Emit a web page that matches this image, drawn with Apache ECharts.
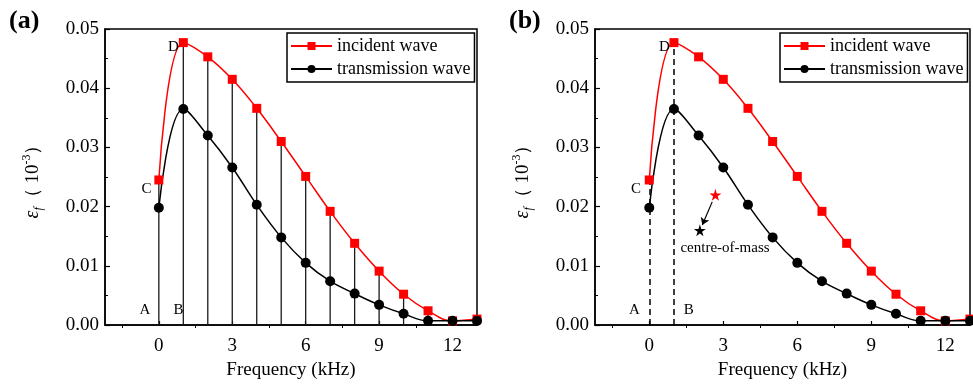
<!DOCTYPE html>
<html>
<head>
<meta charset="utf-8">
<script src="https://cdn.jsdelivr.net/npm/echarts@6/dist/echarts.min.js"></script>
<style>
html, body { margin: 0; padding: 0; background: #fff; }
#chart { width: 973px; height: 389px; }
</style>
</head>
<body>
<div id="chart"></div>
<script>
// data (strain amplitude vs frequency)
const freq = [0, 1, 2, 3, 4, 5, 6, 7, 8, 9, 10, 11, 12, 13];
const incident = [0.0245, 0.0477, 0.0453, 0.0415, 0.0366, 0.0310, 0.0251, 0.0192, 0.0138, 0.0091, 0.0052, 0.0024, 0.0007, 0.0010];
const transmission = [0.0198, 0.0365, 0.0320, 0.0266, 0.0203, 0.0148, 0.0105, 0.0074, 0.0053, 0.0034, 0.0019, 0.0007, 0.0007, 0.0007];
const xLabels = [0, 3, 6, 9, 12];
const xMinor = [-1.5, 1.5, 4.5, 7.5, 10.5];
const dashedAt = [0, 1];
// letters and notes: [text, x, y]
const notesA = [['A', -0.57, 0.0025], ['B', 0.8, 0.0025], ['C', -0.5, 0.0230], ['D', 0.6, 0.0470]];
const notesB = [['A', -0.6, 0.0025], ['B', 1.6, 0.0025], ['C', -0.54, 0.0230], ['D', 0.61, 0.0470], ['centre-of-mass', 3.07, 0.0130]];
const centreIncident = [2.68, 0.0220];
const centreTransmission = [2.05, 0.0160];
const arrowFrom = [2.55, 0.0208];
const arrowTo = [2.15, 0.0169];

const FONT = '"Liberation Serif", "Times New Roman", serif';
const STAR = 'path://M50,0 L61,35 L98,35 L68,57 L79,91 L50,70 L21,91 L32,57 L2,35 L39,35 Z';

const chart = echarts.init(document.getElementById('chart'));

function xMain (g) {
  return {
    type: 'value', gridIndex: g, min: -2.2, max: 13,
    name: 'Frequency (kHz)', nameLocation: 'middle', nameGap: 36,
    nameTextStyle: { fontFamily: FONT, fontSize: 19, color: '#000' },
    axisLine: { onZero: false, lineStyle: { color: '#000', width: 1.5 } },
    axisTick: { inside: true, length: 4, customValues: xLabels, lineStyle: { color: '#000', width: 1.2 } },
    axisLabel: { customValues: xLabels, fontFamily: FONT, fontSize: 19, color: '#000', margin: 12 },
    splitLine: { show: false }
  };
}
function xMinorAxis (g) {
  return {
    type: 'value', gridIndex: g, min: -2.2, max: 13, position: 'bottom',
    axisLine: { show: false },
    axisTick: { inside: false, length: 3, customValues: xMinor, lineStyle: { color: '#000', width: 1 } },
    axisLabel: { show: false },
    splitLine: { show: false }
  };
}
function yMain (g) {
  return {
    type: 'value', gridIndex: g, min: 0, max: 0.05, interval: 0.01,
    name: '{e|ε}{s|f}{t|（ 10}{p|-3}{t|）}', nameLocation: 'middle', nameGap: 60,
    nameTextStyle: {
      rich: {
        e: { fontFamily: FONT, fontSize: 20, fontStyle: 'italic', color: '#000', lineHeight: 24 },
        s: { fontFamily: FONT, fontSize: 12, fontStyle: 'italic', color: '#000', lineHeight: 24, verticalAlign: 'bottom', padding: [8, 0, 0, 0] },
        t: { fontFamily: FONT, fontSize: 19, color: '#000', lineHeight: 24 },
        p: { fontFamily: FONT, fontSize: 12, color: '#000', lineHeight: 24, verticalAlign: 'top', padding: [0, 0, 8, 0] }
      }
    },
    axisLine: { onZero: false, lineStyle: { color: '#000', width: 1.5 } },
    axisTick: { inside: true, length: 5, lineStyle: { color: '#000', width: 1.2 } },
    minorTick: { show: true, splitNumber: 2, length: 3, lineStyle: { color: '#000', width: 1 } },
    axisLabel: { fontFamily: FONT, fontSize: 19, color: '#000', margin: 6, formatter: v => v.toFixed(2) },
    splitLine: { show: false }
  };
}
function legend (left) {
  return {
    left: left, top: 33, orient: 'vertical',
    data: ['incident wave', 'transmission wave'],
    borderColor: '#000', borderWidth: 1.5, padding: [4, 4, 4, 3],
    itemGap: 5, itemWidth: 41, itemHeight: 10,
    textStyle: { fontFamily: FONT, fontSize: 18, color: '#000' }
  };
}
function curves (xi, yi) {
  return [
    {
      name: 'incident wave', type: 'line', xAxisIndex: xi, yAxisIndex: yi,
      data: freq.map((f, i) => [f, incident[i]]), smooth: 0.4,
      symbol: 'rect', symbolSize: 9, z: 5,
      lineStyle: { color: '#ff0000', width: 1.5 }, itemStyle: { color: '#ff0000' }
    },
    {
      name: 'transmission wave', type: 'line', xAxisIndex: xi, yAxisIndex: yi,
      data: freq.map((f, i) => [f, transmission[i]]), smooth: 0.4,
      symbol: 'circle', symbolSize: 10, z: 5,
      lineStyle: { color: '#000', width: 1.5 }, itemStyle: { color: '#000' }
    }
  ];
}
function notes (xi, yi, list) {
  return {
    type: 'scatter', xAxisIndex: xi, yAxisIndex: yi, symbolSize: 0, z: 6,
    itemStyle: { opacity: 1 },
    data: list.map(n => [n[1], n[2], n[0]]),
    label: { show: true, position: 'inside', formatter: p => p.value[2], fontFamily: FONT, fontSize: 15, color: '#000' }
  };
}

chart.setOption({
  animation: false,
  graphic: [
    { type: 'text', left: 9, top: 8, style: { text: '(a)', font: 'bold 26px "Liberation Serif"', fill: '#000' } },
    { type: 'text', left: 509, top: 8, style: { text: '(b)', font: 'bold 26px "Liberation Serif"', fill: '#000' } }
  ],
  legend: [legend(287), legend(780)],
  grid: [
    { left: 105, right: 496, top: 29, bottom: 64, show: true, borderColor: '#000', borderWidth: 1.5 },
    { left: 595, right: 3, top: 29, bottom: 64, show: true, borderColor: '#000', borderWidth: 1.5 }
  ],
  xAxis: [xMain(0), xMinorAxis(0), xMain(1), xMinorAxis(1)],
  yAxis: [yMain(0), yMain(1)],
  series: [
    // panel (a): stems under every incident point
    {
      type: 'bar', xAxisIndex: 0, yAxisIndex: 0, barWidth: 1.3, z: 1,
      data: freq.map((f, i) => [f, incident[i]]),
      itemStyle: { color: '#1a1a1a' }
    },
    ...curves(0, 0),
    notes(0, 0, notesA),
    // panel (b)
    ...curves(2, 1),
    {
      type: 'scatter', xAxisIndex: 2, yAxisIndex: 1, symbol: STAR, symbolSize: 12, z: 6,
      itemStyle: { opacity: 1 },
      data: [
        { value: centreIncident, itemStyle: { color: '#ff0000', opacity: 1 } },
        { value: centreTransmission, itemStyle: { color: '#000', opacity: 1 } }
      ],
      markLine: {
        silent: true, symbol: ['none', 'arrow'], symbolSize: 7,
        lineStyle: { color: '#000', width: 1.2, type: 'solid', opacity: 1 },
        label: { show: false },
        data: [[{ coord: arrowFrom }, { coord: arrowTo }]]
      }
    },
    {
      type: 'line', xAxisIndex: 2, yAxisIndex: 1, data: [], z: 1,
      markLine: {
        silent: true, symbol: ['none', 'none'],
        lineStyle: { color: '#000', width: 1.5, type: [6, 4] },
        label: { show: false },
        data: dashedAt.map(f => [{ coord: [f, 0] }, { coord: [f, incident[freq.indexOf(f)]] }])
      }
    },
    notes(2, 1, notesB)
  ]
});
</script>
</body>
</html>
